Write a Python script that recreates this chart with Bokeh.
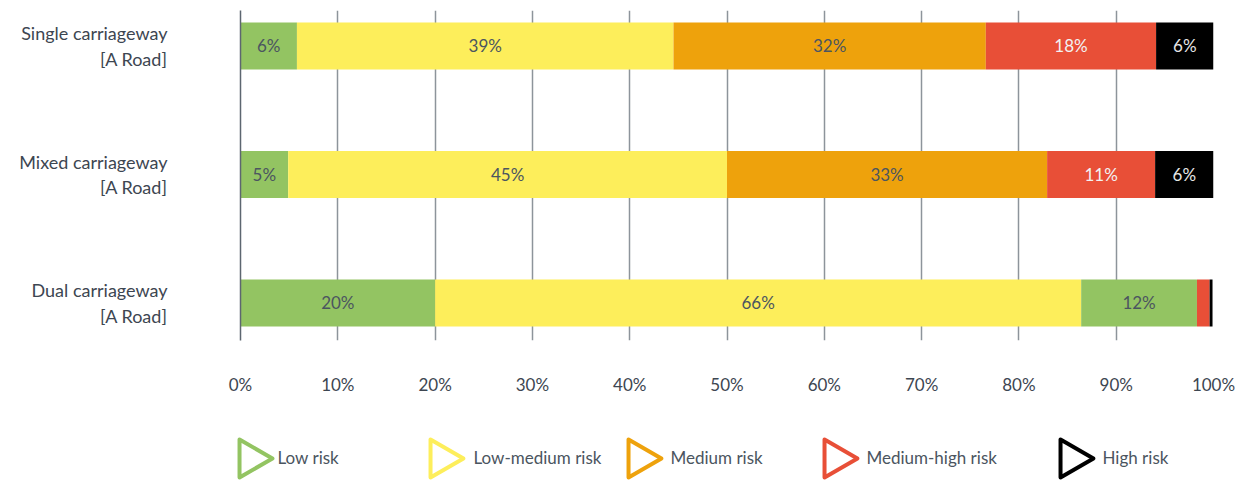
import math
from bokeh.plotting import figure
from bokeh.models import ColumnDataSource, FixedTicker, Range1d
from bokeh.layouts import column
from bokeh.core.properties import value
from bokeh.embed import file_html
from bokeh.resources import INLINE

# ---- data ----
roads = ["Single carriageway\n[A Road]", "Mixed carriageway\n[A Road]", "Dual carriageway\n[A Road]"]
series = ["Low risk", "Low-medium  risk", "Medium risk", "Medium-high risk", "High risk"]
low = [5.8, 4.9, 20.0]
low_medium = [38.7, 45.1, 66.4]
medium = [32.1, 32.9, 11.9]
medium_high = [17.5, 11.1, 1.3]
high = [5.9, 6.0, 0.3]
x_ticks = [0, 10, 20, 30, 40, 50, 60, 70, 80, 90, 100]
x_tick_labels = ["0%", "10%", "20%", "30%", "40%", "50%", "60%", "70%", "80%", "90%", "100%"]

colors = ["#93c462", "#fdee5b", "#eea20c", "#e84f37", "#000000"]
text_colors = ["#4b5560", "#4b5560", "#4b5560", "#f2f2f2", "#e6e6e6"]
# the original colours the dual carriageway 'Medium risk' segment green
seg_color_override = {(2, 2): "#93c462"}

FONT = "Lato"
values = [low, low_medium, medium, medium_high, high]
ypos = [2, 1, 0]

left_, right_, ys, fills, lx, ly, ltxt, lcol = [], [], [], [], [], [], [], []
for r in range(len(roads)):
    acc = 0.0
    for s in range(len(series)):
        v = values[s][r]
        left_.append(acc)
        right_.append(acc + v)
        ys.append(ypos[r])
        fills.append(seg_color_override.get((r, s), colors[s]))
        if v >= 3:
            lx.append(acc + v / 2)
            ly.append(ypos[r])
            ltxt.append(f"{round(v)}%")
            lcol.append(text_colors[s])
        acc += v

bars = ColumnDataSource(dict(left=left_, right=right_, y=ys, color=fills))
labels = ColumnDataSource(dict(x=lx, y=ly, text=ltxt, color=lcol))

p = figure(width=1242, height=420, output_backend="svg", toolbar_location=None,
           x_range=Range1d(0, 100), y_range=Range1d(-0.292, 2.276),
           min_border_left=240, min_border_right=29, min_border_top=10, min_border_bottom=80)
p.outline_line_color = None
p.background_fill_color = "white"
p.border_fill_color = "white"

p.hbar(y="y", left="left", right="right", height=0.366, fill_color="color",
       line_color=None, source=bars)
p.text(x="x", y="y", text="text", text_color="color", text_align="center",
       text_baseline="middle", text_font=value(FONT), text_font_size="17px", source=labels)

# x axis
xa = p.xaxis[0]
xa.ticker = FixedTicker(ticks=x_ticks)
xa.major_label_overrides = {t: l for t, l in zip(x_ticks, x_tick_labels)}
xa.axis_line_color = None
xa.major_tick_line_color = None
xa.minor_tick_line_color = None
xa.major_label_standoff = 27
xa.major_label_text_font = FONT
xa.major_label_text_font_size = "17px"
xa.major_label_text_color = "#3d4651"

# y axis
ya = p.yaxis[0]
ya.ticker = FixedTicker(ticks=ypos)
ya.major_label_overrides = {y: n for y, n in zip(ypos, roads)}
ya.axis_line_color = "#5d6670"
ya.axis_line_width = 1.5
ya.major_tick_line_color = None
ya.minor_tick_line_color = None
ya.major_label_standoff = 67
ya.major_label_text_font = FONT
ya.major_label_text_font_size = "18px"
ya.major_label_text_line_height = 1.15
ya.major_label_text_color = "#3d4651"
ya.major_label_text_align = "right"

p.xgrid.ticker = FixedTicker(ticks=x_ticks)
p.xgrid.grid_line_color = "#8d949b"
p.xgrid.grid_line_width = 1.5
p.ygrid.grid_line_color = None
p.xgrid.level = "underlay"

# ---- legend figure (frame aligned with the main one; x in page pixels) ----
leg = figure(width=1242, height=60, output_backend="svg", toolbar_location=None,
             x_range=Range1d(240, 1213), y_range=Range1d(0, 60),
             min_border_left=240, min_border_right=29, min_border_top=0, min_border_bottom=0)
leg.outline_line_color = None
leg.axis.visible = False
leg.grid.visible = False
marker_x = [250, 441, 639, 835, 1071]
text_x = [277, 473, 670, 866, 1102]
mk = leg.scatter(x=marker_x, y=[22] * 5, marker="triangle", size=38, angle=-math.pi / 2,
                 fill_color=None, line_color=colors, line_width=4, line_join="round")
mk.level = "overlay"
leg.text(x=text_x, y=[23] * 5, text=series, text_align="left", text_baseline="middle",
         text_font=value(FONT), text_font_size="17px", text_color="#4b5560")

layout = column(p, leg)
open("out.html", "w").write(file_html(layout, INLINE))
